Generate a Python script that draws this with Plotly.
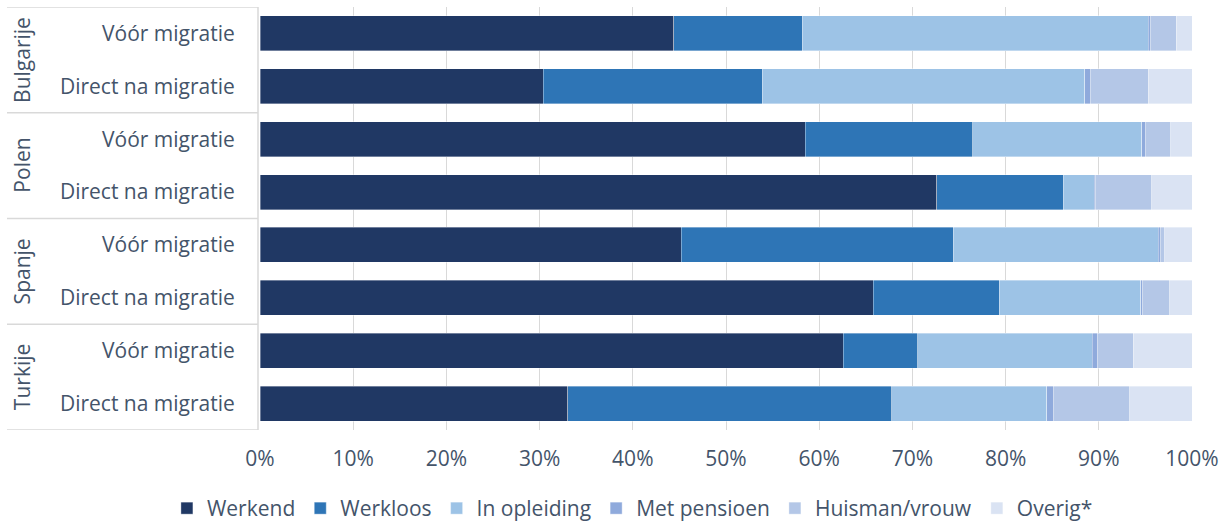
import plotly.graph_objects as go

countries = ["Bulgarije", "Polen", "Spanje", "Turkije"]
periods = ["Vóór migratie", "Direct na migratie"]
row_labels = [p for c in countries for p in periods]

series_names = ["Werkend", "Werkloos", "In opleiding", "Met pensioen", "Huisman/vrouw", "Overig*"]
werkend = [44.4, 30.4, 58.5, 72.6, 45.2, 65.8, 62.6, 33.0]
werkloos = [13.8, 23.5, 18.0, 13.6, 29.2, 13.5, 8.0, 34.8]
in_opleiding = [37.1, 34.6, 18.1, 3.3, 22.0, 15.2, 18.7, 16.6]
met_pensioen = [0.2, 0.6, 0.4, 0.1, 0.2, 0.2, 0.6, 0.7]
huisman = [2.8, 6.2, 2.7, 6.1, 0.5, 2.9, 3.8, 8.2]
overig = [1.7, 4.7, 2.3, 4.3, 2.9, 2.4, 6.3, 6.7]
series_values = [werkend, werkloos, in_opleiding, met_pensioen, huisman, overig]
colors = ["#203864", "#2E75B6", "#9DC3E6", "#8FAADC", "#B4C7E7", "#DAE3F3"]

x_ticks = [0, 10, 20, 30, 40, 50, 60, 70, 80, 90, 100]
x_tick_labels = [f"{v}%" for v in x_ticks]

FONT = "Open Sans"
FS = 21
TXT = "#44546A"
GRID = "#D9D9D9"

rows = list(range(len(row_labels)))
fig = go.Figure()
for name, vals, col in zip(series_names, series_values, colors):
    fig.add_trace(go.Bar(
        name=name, x=vals, y=rows, orientation="h", width=0.66,
        marker=dict(color=col, line=dict(color="rgba(255,255,255,0.6)", width=0.6)),
    ))

fig.update_layout(
    barmode="stack",
    width=1228, height=529,
    margin=dict(l=260, r=36, t=7, b=99, autoexpand=False),
    plot_bgcolor="white", paper_bgcolor="white",
    font=dict(family=FONT, size=FS, color=TXT),
    showlegend=True,
    legend=dict(orientation="h", xref="container", x=0.515, xanchor="center",
                yref="container", y=-0.015, yanchor="bottom",
                font=dict(size=FS, color=TXT), traceorder="normal"),
    xaxis=dict(range=[0, 100], tickvals=x_ticks, ticktext=x_tick_labels,
               showgrid=True, gridcolor=GRID, gridwidth=1, zeroline=False,
               ticks="outside", ticklen=10, tickcolor="rgba(0,0,0,0)",
               showline=False, fixedrange=True, automargin=False),
    yaxis=dict(range=[7.5, -0.5], tickvals=rows, ticktext=row_labels,
               showgrid=False, zeroline=False,
               ticks="outside", ticklen=20, tickcolor="rgba(0,0,0,0)",
               showline=False, fixedrange=True, automargin=False),
)

x_left = (7 - 260) / 932
x_right = (258 - 260) / 932
for yb in [-0.5, 1.5, 3.5, 5.5, 7.5]:
    fig.add_shape(type="line", xref="paper", yref="y", x0=x_left, x1=x_right,
                  y0=yb, y1=yb, line=dict(color=GRID, width=1.5))
fig.add_shape(type="line", xref="paper", yref="y", x0=x_right, x1=x_right,
              y0=-0.5, y1=7.5, line=dict(color=GRID, width=1.5))

for i, c in enumerate(countries):
    fig.add_annotation(text=c, xref="paper", yref="y", x=(22 - 260) / 932, y=2 * i + 0.5,
                       textangle=-90, showarrow=False, font=dict(size=FS, color=TXT),
                       xanchor="center", yanchor="middle")

fig.write_html("out.html", config={"displayModeBar": False},
               post_script="document.body.style.margin='0';")
